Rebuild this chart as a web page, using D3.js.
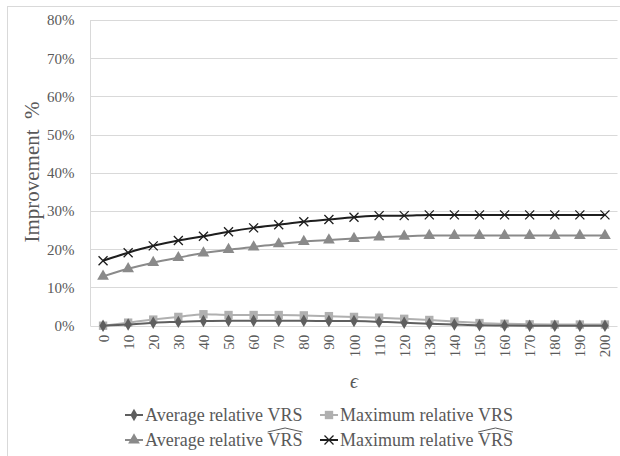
<!DOCTYPE html>
<html><head><meta charset="utf-8">
<script src="https://cdn.jsdelivr.net/npm/d3@7/dist/d3.min.js"></script>
<style>body{margin:0;background:#fff}svg{display:block}</style>
</head><body><svg id="c" width="620" height="456"></svg>
<script>
const categories = [0,10,20,30,40,50,60,70,80,90,100,110,120,130,140,150,160,170,180,190,200];
const avgVRS   = [0,0.3,0.8,1.0,1.2,1.3,1.3,1.3,1.3,1.2,1.2,1.0,0.8,0.5,0.3,0.1,0.05,0,0,0,0];
const maxVRS   = [0,0.8,1.6,2.3,3.0,2.8,2.8,2.8,2.7,2.5,2.3,2.1,1.8,1.5,1.1,0.7,0.5,0.35,0.3,0.3,0.3];
const avgVRSh  = [12.9,14.9,16.5,17.8,19.0,19.9,20.6,21.4,22.0,22.4,22.8,23.2,23.4,23.6,23.6,23.6,23.6,23.6,23.6,23.6,23.6];
const maxVRSh  = [17.0,19.1,20.9,22.3,23.4,24.6,25.6,26.4,27.2,27.8,28.4,28.8,28.8,29.0,29.0,29.0,29.0,29.0,29.0,29.0,29.0];
const yTicks = [0,10,20,30,40,50,60,70,80];

const svg = d3.select("#c");
const FONT = "Liberation Serif, Tinos, Times New Roman, Times, DejaVu Serif, Noto Serif, serif";
const L = 90.5, R = 617.5, T = 20, B = 325.7;
const x = d3.scalePoint().domain(categories).range([L, R]).padding(0.5);
const y = d3.scaleLinear().domain([0, 80]).range([B, T]);

svg.style("font-family", FONT);

// outer frame
svg.append("rect").attr("x",7.5).attr("y",6.5).attr("width",640).attr("height",480)
  .attr("fill","none").attr("stroke","#d9d9d9").attr("stroke-width",1);

// gridlines
svg.append("g").selectAll("line").data(yTicks).join("line")
  .attr("x1",L).attr("x2",R).attr("y1",d=>Math.round(y(d))+0.5).attr("y2",d=>Math.round(y(d))+0.5)
  .attr("stroke","#d9d9d9").attr("stroke-width",1);
svg.append("line").attr("x1",L).attr("x2",L).attr("y1",T).attr("y2",B+0.5)
  .attr("stroke","#d9d9d9");

// y axis labels
const yAxis = d3.axisLeft(y).tickValues(yTicks).tickFormat(d=>d+"%").tickSize(0).tickPadding(16);
const gy = svg.append("g").attr("transform",`translate(${L},0)`).call(yAxis);
gy.attr("font-family",null);
gy.select(".domain").remove();
gy.selectAll("text").style("font-family",FONT).attr("font-size",15).attr("fill","#595959");

// x axis labels
const xAxis = d3.axisBottom(x).tickSize(0).tickPadding(0);
const gx = svg.append("g").attr("transform",`translate(0,${B})`).call(xAxis);
gx.attr("font-family",null);
gx.select(".domain").remove();
gx.selectAll("text").style("font-family",FONT).attr("font-size",15).attr("fill","#595959")
  .attr("text-anchor","end").attr("dy",null).attr("y",0)
  .attr("transform","translate(5,9) rotate(-90)");

// axis titles
svg.append("text").attr("transform","translate(39,172) rotate(-90)").attr("text-anchor","middle")
  .style("font-family",FONT).attr("font-size",21).attr("fill","#595959").attr("xml:space","preserve")
  .text("Improvement  %");
svg.append("text").attr("x",(L+R)/2).attr("y",388).attr("text-anchor","middle")
  .style("font-family",FONT).attr("font-style","italic").attr("font-size",20).attr("fill","#595959")
  .text("\u03F5");

// symbols
function marker(g, type, color, cx, cy){
  if(type==="x"){
    const s=4.5;
    g.append("path").attr("d",`M${cx-s},${cy-s}L${cx+s},${cy+s}M${cx-s},${cy+s}L${cx+s},${cy-s}`)
      .attr("stroke",color).attr("stroke-width",1.3).attr("fill","none");
  } else {
    const sym = {diamond:d3.symbolDiamond, square:d3.symbolSquare, triangle:d3.symbolTriangle}[type];
    const size = {diamond:45, square:70, triangle:60}[type];
    g.append("path").attr("d",d3.symbol(sym,size)()).attr("transform",`translate(${cx},${cy})`)
      .attr("fill",color);
  }
}

const series = [
  {name:"Average relative ", hat:false, data:avgVRS, color:"#5f5f5f", mk:"diamond", w:2},
  {name:"Maximum relative ", hat:false, data:maxVRS, color:"#b0b0b0", mk:"square", w:2},
  {name:"Average relative ", hat:true, data:avgVRSh, color:"#8a8a8a", mk:"triangle", w:2},
  {name:"Maximum relative ", hat:true, data:maxVRSh, color:"#1e1e1e", mk:"x", w:2}
];
const line = d3.line().x((d,i)=>x(categories[i])).y(d=>y(d)).curve(d3.curveMonotoneX);
const drawOrder = [1,0,2,3];
drawOrder.forEach(k=>{
  const s = series[k];
  const g = svg.append("g");
  g.append("path").attr("d",line(s.data)).attr("fill","none").attr("stroke",s.color).attr("stroke-width",s.w);
  s.data.forEach((v,i)=>marker(g, s.mk, s.color, x(categories[i]), y(v)));
});

// legend
const legPos = [[125,421],[320,421],[125,446],[320,446]];
series.forEach((s,k)=>{
  const [lx,ly] = legPos[k];
  const g = svg.append("g");
  const cy = ly-6;
  g.append("line").attr("x1",lx).attr("x2",lx+18).attr("y1",cy).attr("y2",cy).attr("stroke",s.color).attr("stroke-width",2);
  marker(g, s.mk, s.color, lx+9, cy);
  const t1 = g.append("text").attr("x",lx+20).attr("y",ly).style("font-family",FONT).attr("font-size",18)
    .attr("fill","#595959").attr("xml:space","preserve").text(s.name);
  const w1 = t1.node().getComputedTextLength();
  const t2 = g.append("text").attr("x",lx+20+w1).attr("y",ly).style("font-family",FONT).attr("font-size",18)
    .attr("fill","#595959").text("VRS");
  if(s.hat){
    const w2 = t2.node().getComputedTextLength();
    const hx = lx+20+w1, hy = ly-14;
    g.append("path").attr("d",`M${hx},${hy}L${hx+w2/2},${hy-4}L${hx+w2},${hy}`)
      .attr("fill","none").attr("stroke","#595959").attr("stroke-width",1);
  }
});
</script></body></html>
